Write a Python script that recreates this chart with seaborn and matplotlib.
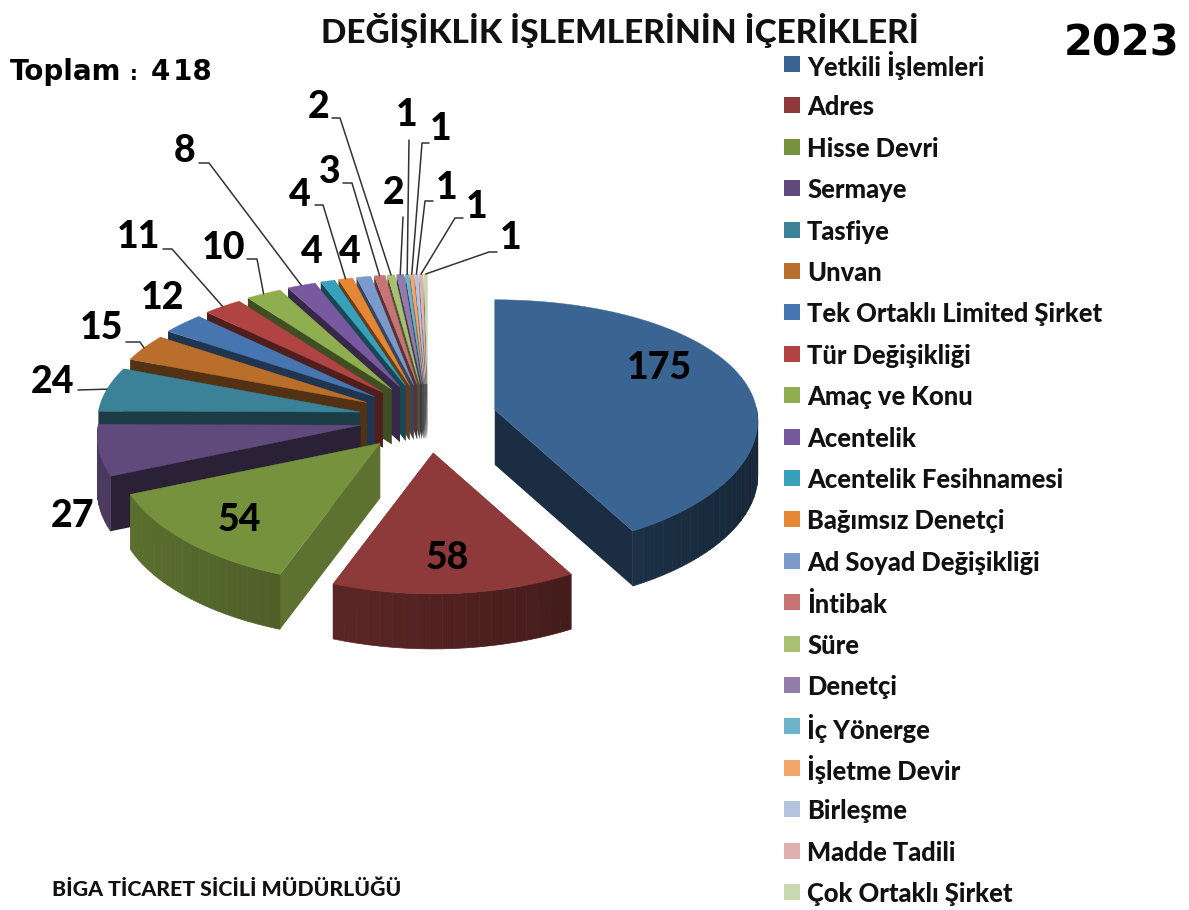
import numpy as np
import seaborn as sns
from matplotlib import pyplot as plt

# ----------------------------- data ------------------------------ #
categories = ['Yetkili İşlemleri', 'Adres', 'Hisse Devri', 'Sermaye', 'Tasfiye', 'Unvan',
              'Tek Ortaklı Limited Şirket', 'Tür Değişikliği', 'Amaç ve Konu', 'Acentelik',
              'Acentelik Fesihnamesi', 'Bağımsız Denetçi', 'Ad Soyad Değişikliği', 'İntibak',
              'Süre', 'Denetçi', 'İç Yönerge', 'İşletme Devir', 'Birleşme', 'Madde Tadili',
              'Çok Ortaklı Şirket']
values = [175, 58, 54, 27, 24, 15, 12, 11, 10, 8, 4, 4, 4, 3, 2, 2, 1, 1, 1, 1, 1]
colors = ['#3A6593', '#8E3A3A', '#77923D', '#604A7B', '#3B8299', '#B96F2B', '#4675B0',
          '#B04442', '#8FAE4F', '#7859A0', '#37A0BB', '#E58734', '#7C99CC', '#C87476',
          '#A9C073', '#917CAB', '#6FB3CB', '#F5A46C', '#B4C3DE', '#E0B0B0', '#C8D9B0']

# label centres and leader elbows, in pixels of the picture
label_pos = [(659, 368), (447, 558), (239, 520), (72, 516), (53, 382), (101, 328), (163, 298),
             (139, 237), (224, 248), (185, 151), (312, 252), (300, 195), (350, 252), (330, 172),
             (319, 107), (394, 193), (407, 115), (441, 129), (447, 188), (477, 207), (511, 238)]
leaders = {4: [(78, 390)], 5: [(126, 342), (140, 342)], 7: [(163, 249), (172, 249)],
           8: [(247, 259), (257, 259)], 9: [(199, 163), (209, 163)], 11: [(315, 205), (323, 205)],
           13: [(343, 183), (352, 183)], 14: [(332, 118), (340, 118)], 15: [(403, 217)],
           16: [(409, 140)], 17: [(429, 143), (422, 143)], 18: [(433, 201), (425, 201)],
           19: [(463, 218), (455, 218)], 20: [(497, 252), (489, 252)]}

# pie geometry
cx, cy = 428, 418.5
ex, ey = 69, 34.5
depth = 55
heavy = 900


def radii(v):
    # nearer part of the disc is drawn bigger
    return 262 + 23 * v, 125.5 + 15.5 * v


def apex(mid):
    return cx + ex * np.sin(mid), cy - ey * np.cos(mid)


def rim(th, mid):
    v = -np.cos(th)
    rx, ry = radii(v)
    ax0, ay0 = apex(mid)
    return ax0 + rx * np.sin(th), ay0 + ry * v


def shade(col, f):
    return tuple(c * f for c in sns.color_palette([col])[0])


sns.set_theme(style='white')
plt.rcParams['font.family'] = ['Lato', 'DejaVu Sans']

fig = plt.figure(figsize=(11.89, 9.10), dpi=100)
ax = fig.add_axes([0, 0, 1, 1])
ax.set_xlim(0, 1189)
ax.set_ylim(910, 0)
ax.axis('off')

edges = np.cumsum([0] + values) / sum(values) * 2 * np.pi

# --------------------------- slices ------------------------------ #
for i in range(len(values) - 1, -1, -1):
    t0, t1 = edges[i], edges[i + 1]
    mid = (t0 + t1) / 2
    col = colors[i]
    ax0, ay0 = apex(mid)
    ths = np.linspace(t0, t1, max(4, int(values[i] * 1.5)))
    pts = np.array([rim(t, mid) for t in ths])

    # cut faces, the one facing us goes last
    faces = [(t0, 0.78 if 3.2 < t0 < 4.0 else 0.45), (t1, 0.45)]
    if mid > np.pi:
        faces = faces[::-1]
    for t, f in faces:
        rx0, ry0 = rim(t, mid)
        ax.fill([ax0, rx0, rx0, ax0], [ay0, ry0, ry0 + depth, ay0 + depth],
                color=shade(col, f), lw=0, zorder=2)

    # outer wall in bands, only the front half of the disc shows it
    wall = np.linspace(t0, t1, max(3, values[i] // 3 + 2))
    for a, b in zip(wall[:-1], wall[1:]):
        if np.cos((a + b) / 2) > 0:
            continue
        f = 0.58 - 0.2 * np.sin((a + b) / 2)
        arc = np.array([rim(t, mid) for t in np.linspace(a, b, 8)])
        ax.fill(np.r_[arc[:, 0], arc[::-1, 0]], np.r_[arc[:, 1], arc[::-1, 1] + depth],
                color=shade(col, f), lw=0.5, zorder=2)

    ax.fill(np.r_[ax0, pts[:, 0]], np.r_[ay0, pts[:, 1]], color=col, lw=0.3, zorder=2)

# --------------------------- labels ------------------------------ #
for i, (val, (lx, ly)) in enumerate(zip(values, label_pos)):
    ax.text(lx, ly, str(val), fontsize=27, fontweight=heavy, color='black',
            ha='center', va='center', zorder=4)
    if i in leaders:
        mid = (edges[i] + edges[i + 1]) / 2
        line = leaders[i] + [rim(mid, mid)]
        ax.plot([p[0] for p in line], [p[1] for p in line], color='#333333', lw=1.1, zorder=3)

# --------------------------- legend ------------------------------ #
for i, (name, c) in enumerate(zip(categories, colors)):
    row = 64 + 41.4 * i
    ax.scatter([792], [row], marker='s', s=120, color=c, linewidths=0, zorder=3)
    ax.text(807, row, name, fontsize=18.4, fontweight=heavy, color='#111111',
            ha='left', va='center_baseline')

# ---------------------------- texts ------------------------------ #
ax.text(620, 30, 'DEĞİŞİKLİK İŞLEMLERİNİN İÇERİKLERİ', fontsize=24, fontweight=heavy,
        ha='center', va='center', color='#111111')
ax.text(1122, 44, '2023', fontsize=30, fontweight='bold', family='DejaVu Sans',
        ha='center', va='center', color='black')
ax.text(10, 72, 'Toplam', fontsize=20, fontweight='bold', family='DejaVu Sans',
        ha='left', va='center', color='black')
ax.text(130, 74, ':', fontsize=14, fontweight='bold', family='DejaVu Sans',
        ha='left', va='center', color='black')
ax.text(151, 72, '4\u200a18', fontsize=20, fontweight='bold', family='DejaVu Sans',
        ha='left', va='center', color='black')
ax.text(52, 889, 'BİGA TİCARET SİCİLİ MÜDÜRLÜĞÜ', fontsize=15.35, fontweight=heavy,
        ha='left', va='center', color='#111111')

fig.savefig('out.png', dpi=100)
